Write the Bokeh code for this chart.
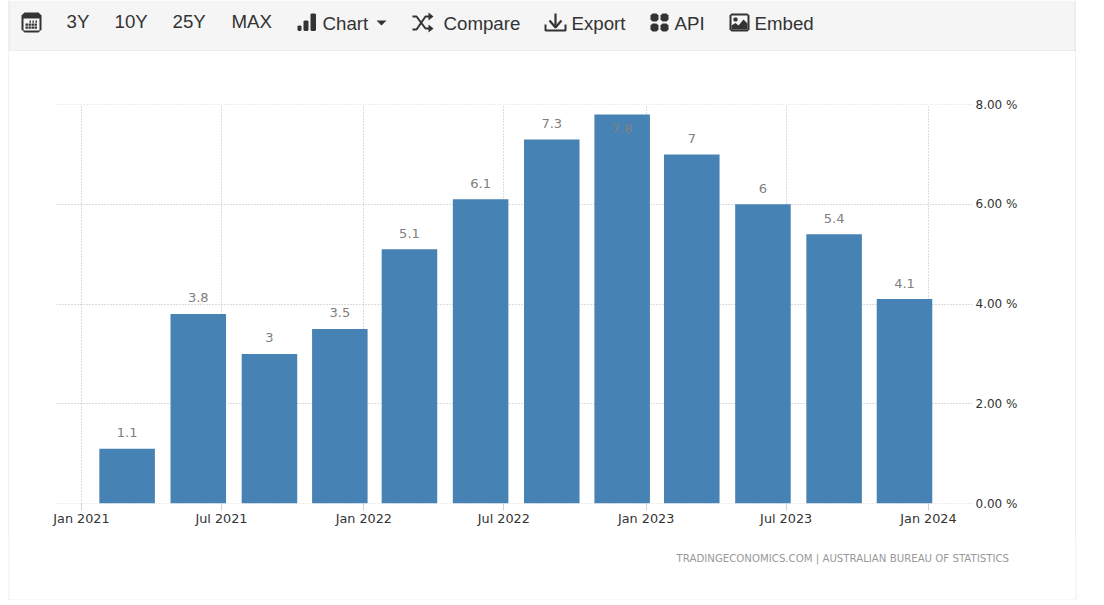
from datetime import datetime
from bokeh.core.properties import value
from bokeh.embed import file_html
from bokeh.layouts import column
from bokeh.models import (ColumnDataSource, FixedTicker, Grid,
                          LinearAxis, Range1d, Span)
from bokeh.plotting import figure
from bokeh.resources import INLINE

# ---- data ----
quarters = ["2021-03-01", "2021-06-01", "2021-09-01", "2021-12-01",
            "2022-03-01", "2022-06-01", "2022-09-01", "2022-12-01",
            "2023-03-01", "2023-06-01", "2023-09-01", "2023-12-01"]
inflation = [1.1, 3.8, 3.0, 3.5, 5.1, 6.1, 7.3, 7.8, 7.0, 6.0, 5.4, 4.1]
x_tick_dates = ["2021-01-01", "2021-07-01", "2022-01-01", "2022-07-01",
                "2023-01-01", "2023-07-01", "2024-01-01"]
x_tick_labels = ["Jan 2021", "Jul 2021", "Jan 2022", "Jul 2022",
                 "Jan 2023", "Jul 2023", "Jan 2024"]
y_ticks = [0, 2, 4, 6, 8]
y_tick_labels = ["0.00 %", "2.00 %", "4.00 %", "6.00 %", "8.00 %"]
toolbar_left = [("3Y", 66), ("10Y", 114), ("25Y", 172), ("MAX", 231)]
toolbar_right = [("Chart", 322), ("Compare", 443), ("Export", 571), ("API", 674), ("Embed", 754)]
source_note = "TRADINGECONOMICS.COM | AUSTRALIAN BUREAU OF STATISTICS"

DAY = 86400000
BAR_DAYS = 71.8
def ms(s):
    return int((datetime.fromisoformat(s) - datetime(1970, 1, 1)).total_seconds() * 1000)

W = 1096
TOP_H, MID_END, H = 51, 540, 600
PANEL_EDGE = "#f0f0f0"
TOOLBAR_BG = "#f5f5f5"
DARK = "#333333"

def no_align(f):
    if "frame_align" in f.properties():
        f.frame_align = False

def strip(y0, y1):
    """A figure whose frame fills it, with page pixels as its data coordinates."""
    f = figure(width=W, height=y1 - y0, output_backend="svg", toolbar_location=None,
               x_axis_location=None, y_axis_location=None,
               x_range=Range1d(0, W), y_range=Range1d(y1, y0),
               min_border=0, min_border_left=0, min_border_right=0,
               min_border_top=0, min_border_bottom=0,
               background_fill_color="white", border_fill_color="white")
    f.outline_line_color = None
    f.xgrid.visible = False
    f.ygrid.visible = False
    no_align(f)
    return f

def box(f, x0, y0, x1, y1, color):
    f.quad(left=[x0], right=[x1], top=[y0], bottom=[y1], fill_color=color, line_color=None)

def poly(f, pts, color):
    f.patch(x=[a for a, _ in pts], y=[b for _, b in pts], fill_color=color, line_color=None)

def rnd(f, x0, y0, x1, y1, r, color):
    poly(f, [(x0 + r, y0), (x1 - r, y0), (x1, y0 + r), (x1, y1 - r),
             (x1 - r, y1), (x0 + r, y1), (x0, y1 - r), (x0, y0 + r)], color)

def seg(f, x0, y0, x1, y1, w, color):
    f.line(x=[x0, x1], y=[y0, y1], line_width=w, line_color=color)

def txt(f, x, y, s, size, color, font="Liberation Sans", align="left"):
    f.text(x=[x], y=[y], text=[s], text_font=value(font), text_font_size=size,
           text_color=color, text_align=align, text_baseline="middle")

# ---- toolbar strip ----
top = strip(0, TOP_H)
box(top, 8, 0, 1075, 50, TOOLBAR_BG)
box(top, 8, 50, 1076, 51, "#dddddd")
box(top, 8, 0, 9, 50, "#e4e4e4")
box(top, 1074, 0, 1075, 50, "#e4e4e4")
# calendar icon
rnd(top, 21, 12, 41, 32, 3, DARK)
box(top, 23, 18, 39, 30, TOOLBAR_BG)
for row, y in enumerate((20, 23, 26)):
    for col, x in enumerate((25, 28, 31, 34)):
        if row == 0 and col == 0:
            continue
        box(top, x + (1 if row == 0 else 0), y, x + 2.4, y + 2.2, DARK)
for s, x in toolbar_left:
    txt(top, x, 20.5, s, "18.7px", DARK)
for s, x in toolbar_right:
    txt(top, x, 22.5, s, "18.7px", DARK)
# chart icon
rnd(top, 297, 25, 301, 30.5, 1, DARK)
rnd(top, 303, 20, 308, 30.5, 1, DARK)
rnd(top, 310, 13, 315.5, 30.5, 1, DARK)
# caret
poly(top, [(376, 20), (386, 20), (381, 25)], DARK)
# shuffle icon
top.line(x=[412, 416, 425, 429], y=[16, 16, 28, 28], line_width=2, line_color=DARK)
top.line(x=[412, 416, 425, 429], y=[29, 29, 16, 16], line_width=2, line_color=DARK)
poly(top, [(428, 12), (433, 16), (428, 20)], DARK)
poly(top, [(428, 24), (433, 28), (428, 32)], DARK)
# export icon
seg(top, 555, 13, 555, 26, 2.2, DARK)
top.line(x=[549, 555, 561], y=[20, 27, 20], line_width=2.2, line_color=DARK)
top.line(x=[545, 545, 565, 565], y=[24, 30, 30, 24], line_width=2, line_color=DARK)
# api icon
for x0, x1 in ((650, 658), (660, 668)):
    for y0, y1 in ((13, 21), (23, 31)):
        rnd(top, x0, y0, x1, y1, 2, DARK)
# embed icon
rnd(top, 729, 13, 749, 31, 2, DARK)
box(top, 731, 15, 747, 29, TOOLBAR_BG)
rnd(top, 733, 17, 737, 21, 1, DARK)
poly(top, [(731, 29), (731, 25), (735, 22.5), (738, 25), (743, 19), (747, 23), (747, 29)], DARK)

# ---- main chart ----
p = figure(width=W, height=MID_END - TOP_H, output_backend="svg", toolbar_location=None,
           x_axis_location=None, y_axis_location=None,
           x_range=Range1d(ms("2021-01-01") - 32.3 * DAY, ms("2024-01-01") + 59.5 * DAY),
           y_range=Range1d(0, 8),
           min_border_left=56, min_border_right=W - 974,
           min_border_top=104 - TOP_H, min_border_bottom=MID_END - 503,
           background_fill_color="white", border_fill_color=None)
p.styles = {"background": (f"linear-gradient(to right, white 8px, {PANEL_EDGE} 8px, {PANEL_EDGE} 9px, "
                           f"white 9px, white 1075px, {PANEL_EDGE} 1075px, {PANEL_EDGE} 1076px, white 1076px)")}
p.outline_line_color = None
no_align(p)

tick_ms = [ms(d) for d in x_tick_dates]
xaxis = LinearAxis(ticker=FixedTicker(ticks=tick_ms),
                   major_label_overrides=dict(zip(tick_ms, x_tick_labels)))
xaxis.axis_line_color = None
xaxis.major_tick_line_color = "#d0d0d0"
xaxis.major_tick_in = 0
xaxis.major_tick_out = 7
xaxis.major_label_standoff = 0
xaxis.major_label_text_font = "DejaVu Sans"
xaxis.major_label_text_font_size = "12.8px"
xaxis.major_label_text_color = "#333333"
p.add_layout(xaxis, "below")

yaxis = LinearAxis(ticker=FixedTicker(ticks=y_ticks),
                   major_label_overrides=dict(zip(y_ticks, y_tick_labels)))
yaxis.axis_line_color = None
yaxis.major_tick_line_color = None
yaxis.major_tick_in = 0
yaxis.major_tick_out = 0
yaxis.major_label_standoff = 1
yaxis.major_label_text_font = "DejaVu Sans"
yaxis.major_label_text_font_size = "12px"
yaxis.major_label_text_color = "#333333"
p.add_layout(yaxis, "right")

GRID = "#b8b8b8"
p.xgrid.visible = False
p.ygrid.visible = False
p.add_layout(Grid(dimension=0, ticker=FixedTicker(ticks=tick_ms), grid_line_color=GRID,
                  grid_line_dash="1 2", grid_line_width=1))
p.add_layout(Grid(dimension=1, ticker=FixedTicker(ticks=y_ticks), grid_line_color=GRID,
                  grid_line_dash="1 2", grid_line_width=1))
for edge in (y_ticks[0], y_ticks[-1]):
    p.add_layout(Span(location=edge, dimension="width", line_color=GRID,
                      line_dash="1 2", line_width=1))

top_limit = y_ticks[-1]
src = ColumnDataSource(dict(
    x=[ms(q) for q in quarters],
    y=inflation,
    label=[f"{v:g}" for v in inflation],
    off=[14 if v + 0.3 > top_limit else -16 for v in inflation],
))
p.vbar(x="x", top="y", bottom=0, width=BAR_DAYS * DAY, source=src,
       fill_color="#4682B4", line_color=None)
p.text(x="x", y="y", text="label", y_offset="off", source=src,
       text_align="center", text_baseline="middle", text_color="#808080",
       text_font=value("DejaVu Sans"), text_font_size="13px")

# ---- source strip ----
bottom = strip(MID_END, H)
box(bottom, 8, MID_END, 9, 600, PANEL_EDGE)
box(bottom, 1075, MID_END, 1076, 600, PANEL_EDGE)
box(bottom, 8, 599, 1076, 600, PANEL_EDGE)
txt(bottom, 1008.5, 558, source_note, "10.2px", "#999999", font="DejaVu Sans", align="right")

page = column(top, p, bottom, spacing=0)
open("out.html", "w").write(file_html(page, INLINE))
